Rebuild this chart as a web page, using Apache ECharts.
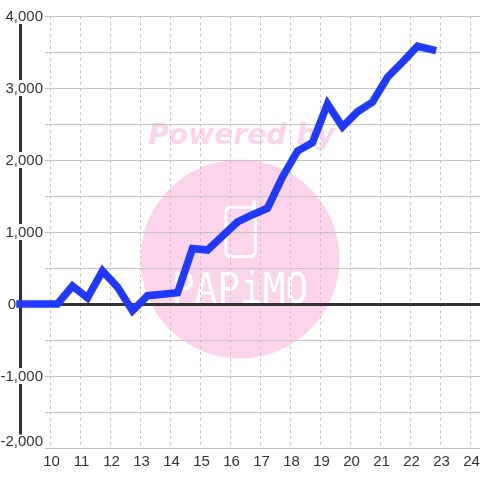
<!DOCTYPE html>
<html><head><meta charset="utf-8">
<script src="https://cdn.jsdelivr.net/npm/echarts@6/dist/echarts.min.js"></script>
<style>html,body{margin:0;padding:0;background:#fff}#c{width:480px;height:480px}</style>
</head><body><div id="c"></div>
<script>
const hours = [9,10.25,10.75,11.25,11.75,12.25,12.75,13.25,13.75,14.25,14.75,15.25,15.75,16.25,16.75,17.25,17.75,18.25,18.75,19.25,19.75,20.25,20.75,21.25,21.75,22.25,22.75];
const values = [0,0,250,85,460,235,-95,115,135,155,770,750,945,1140,1240,1330,1765,2125,2240,2780,2460,2670,2805,3150,3360,3580,3530];
const watermarkTop = 'Powered by';
const watermarkLogo = 'PAPiMO';
const chart = echarts.init(document.getElementById('c'), null, {renderer:'canvas'});
const FONT = '"Liberation Sans"';
const yRange = {min:-2000, max:4000};
const PINK = '#fcd5ec';
chart.setOption({
  animation:false,
  backgroundColor:'#fff',
  graphic:[
    {type:'circle', z:-10, shape:{cx:240,cy:259,r:99.5}, style:{fill:PINK}, silent:true},
    {type:'text', z:-9, x:241.5, y:136.5, style:{text:watermarkTop, fill:PINK, font:'italic bold 28.2px "DejaVu Sans"', textAlign:'center', textVerticalAlign:'middle'}, silent:true},
    {type:'rect', z:-9, shape:{x:225.8,y:207.3,width:29.5,height:49.3,r:5}, style:{fill:'none',stroke:'#fff',lineWidth:3}, silent:true},
    {type:'line', z:-9, shape:{x1:254,y1:202,x2:254,y2:210}, style:{stroke:'#fff',lineWidth:4,lineCap:'round'}, silent:true},
    {type:'text', z:-9, x:240, y:292, scaleX:0.9, style:{text:watermarkLogo, fill:'#fff', font:'42px "DejaVu Sans Mono"', textAlign:'center', textVerticalAlign:'middle'}, silent:true}
  ],
  grid:[
    {left:20,right:0,top:16,bottom:32,outerBoundsMode:'none'},
    {left:45,right:0,top:16,bottom:32,outerBoundsMode:'none'}
  ],
  xAxis:[
    {type:'value',gridIndex:0,min:9,max:24.3333,interval:1,position:'bottom',
     axisLine:{show:false,onZero:false},axisTick:{show:false},
     splitLine:{show:true,lineStyle:{color:'#c4c4c4',type:[3,3],width:1}},
     axisLabel:{show:true,color:'#333',fontFamily:FONT,fontSize:15,margin:6,padding:[0,0,0,3],showMinLabel:false,showMaxLabel:false,hideOverlap:false}},
    {type:'value',gridIndex:0,min:9,max:24.3333,
     axisLine:{show:true,onZero:true,lineStyle:{color:'#333',width:3}},axisTick:{show:false},axisLabel:{show:false},splitLine:{show:false}},
    {type:'value',gridIndex:1,min:9.8333,max:24.3333,show:false}
  ],
  yAxis:[
    {type:'value',gridIndex:0,...yRange,interval:1000,
     axisLine:{show:true,onZero:false,lineStyle:{color:'#333',width:3}},axisTick:{show:false},splitLine:{show:false},
     axisLabel:{show:true,margin:-23,color:'#333',fontFamily:FONT,fontSize:15,align:'right',
       verticalAlignMinLabel:'middle',verticalAlignMaxLabel:'middle',
       rich:{
         n:{backgroundColor:'#fff',lineHeight:15,padding:[1,0,0,0],fontFamily:FONT,fontSize:15,color:'#333'},
         z:{lineHeight:15,padding:[1,27,0,0],fontFamily:FONT,fontSize:15,color:'#333'},
         m:{backgroundColor:'#fff',lineHeight:12,padding:[0,0,12,0],fontFamily:FONT,fontSize:15,color:'#333'}
       },
       formatter:v=>{
         const s=v.toLocaleString('en-US');
         if(v===0) return '{z|'+s+'}';
         if(v===yRange.min) return '{m|'+s+'}';
         return '{n|'+s+'}';
       }}},
    {type:'value',gridIndex:1,...yRange,interval:500,
     axisLine:{show:false},axisTick:{show:false},axisLabel:{show:false},
     splitLine:{show:true,lineStyle:{color:'#c4c4c4',width:1}}}
  ],
  series:[
    {type:'line',xAxisIndex:0,yAxisIndex:0,data:hours.map((h,i)=>[h,values[i]]),symbol:'none',clip:false,z:5,
     lineStyle:{color:'#2039ff',width:7.5,cap:'square',join:'miter'}}
  ]
});
</script></body></html>
